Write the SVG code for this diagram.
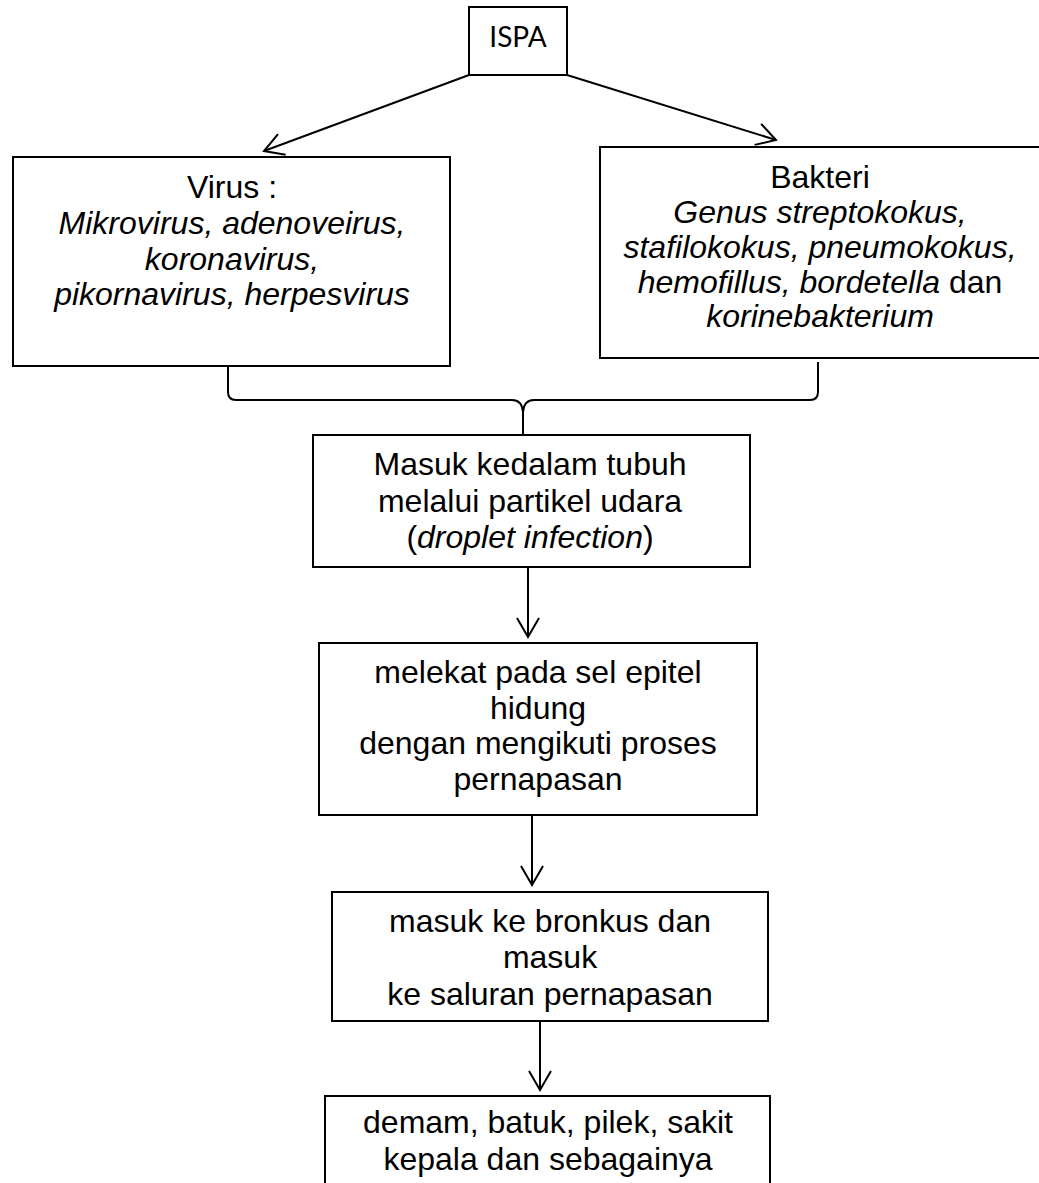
<svg xmlns="http://www.w3.org/2000/svg" width="1039" height="1183" viewBox="0 0 1039 1183">
<style>
.box{fill:#fff;stroke:#000;stroke-width:2}
.t{font-family:"Liberation Sans",Arial,sans-serif;font-size:32px;fill:#000;text-anchor:middle}
.i{font-style:italic}
.c{fill:none;stroke:#000;stroke-width:2}
</style>
<defs>
<marker id="ah" markerUnits="userSpaceOnUse" viewBox="0 0 20 24" refX="20" refY="12" markerWidth="20" markerHeight="24" orient="auto" overflow="visible">
<path d="M1,1 L20,12 L1,23" fill="none" stroke="#000" stroke-width="2"/>
</marker>
</defs>
<rect width="1039" height="1183" fill="#fff"/>
<g id="connectors">
<path class="c" d="M469,75 L264,151" marker-end="url(#ah)"/>
<path class="c" d="M567,75 L776,140" marker-end="url(#ah)"/>
<path class="c" stroke-width="1.5" d="M228,362 V392 Q228,400 236,400 H512 Q522,400 523,412 V434 M818,362 V392 Q818,400 810,400 H534 Q524,400 523,412"/>
<path class="c" d="M528,567 V637" marker-end="url(#ah)"/>
<path class="c" d="M532,815 V885" marker-end="url(#ah)"/>
<path class="c" d="M540,1021 V1090" marker-end="url(#ah)"/>
</g>
<g id="ispa">
<rect class="box" x="469" y="7" width="98" height="68"/>
<text x="518" y="47" font-family="Lato,'Open Sans',sans-serif" font-size="28" text-anchor="middle">ISPA</text>
</g>
<g id="virus">
<rect class="box" x="13" y="157" width="437" height="209"/>
<text class="t" x="232" y="198">Virus :</text>
<text class="t i" x="232" y="234">Mikrovirus, adenoveirus,</text>
<text class="t i" x="232" y="270">koronavirus,</text>
<text class="t i" x="232" y="305">pikornavirus, herpesvirus</text>
</g>
<g id="bakteri">
<rect class="box" x="600" y="147" width="445" height="211" stroke="#555"/>
<text class="t" x="820" y="188">Bakteri</text>
<text class="t i" x="820" y="223">Genus streptokokus,</text>
<text class="t i" x="820" y="258">stafilokokus, pneumokokus,</text>
<text class="t" x="820" y="293"><tspan class="i">hemofillus, bordetella</tspan> dan</text>
<text class="t i" x="820" y="327">korinebakterium</text>
</g>
<g id="masuk">
<rect class="box" x="313" y="435" width="437" height="132"/>
<text class="t" x="530" y="475">Masuk kedalam tubuh</text>
<text class="t" x="530" y="512">melalui partikel udara</text>
<text class="t" x="530" y="548">(<tspan class="i">droplet infection</tspan>)</text>
</g>
<g id="melekat">
<rect class="box" x="319" y="643" width="438" height="172"/>
<text class="t" x="538" y="683">melekat pada sel epitel</text>
<text class="t" x="538" y="719">hidung</text>
<text class="t" x="538" y="754">dengan mengikuti proses</text>
<text class="t" x="538" y="790">pernapasan</text>
</g>
<g id="bronkus">
<rect class="box" x="332" y="892" width="436" height="129"/>
<text class="t" x="550" y="932">masuk ke bronkus dan</text>
<text class="t" x="550" y="968">masuk</text>
<text class="t" x="550" y="1005">ke saluran pernapasan</text>
</g>
<g id="gejala">
<rect class="box" x="325" y="1096" width="445" height="100"/>
<text class="t" x="548" y="1133">demam, batuk, pilek, sakit</text>
<text class="t" x="548" y="1170">kepala dan sebagainya</text>
</g>
</svg>
